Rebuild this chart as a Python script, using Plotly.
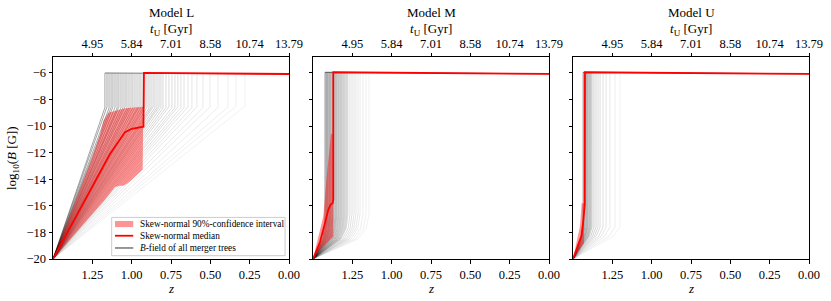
import plotly.graph_objects as go

FONT = "Liberation Serif"

# ---------------- data ----------------
z_ticks = [1.25, 1.0, 0.75, 0.5, 0.25, 0.0]
z_ticklabels = ["1.25", "1.00", "0.75", "0.50", "0.25", "0.00"]
tU_ticklabels = ["4.95", "5.84", "7.01", "8.58", "10.74", "13.79"]
B_ticks = [-20, -18, -16, -14, -12, -10, -8, -6]
model_names = ["Model L", "Model M", "Model U"]

z_seed, B_seed = 1.5, -20.0

# Model L : redshift of the jump of every merger tree and field reached before it
L_jump_z = [1.170, 1.157, 1.144, 1.131, 1.119, 1.106, 1.093, 1.081, 1.068, 1.055,
            1.042, 1.030, 1.017, 1.004, 0.992, 0.979, 0.966, 0.953, 0.941, 0.928,
            0.915, 0.903, 0.890, 0.877, 0.864, 0.852, 0.839, 0.826, 0.814, 0.801,
            0.782, 0.763, 0.744, 0.725, 0.706, 0.687, 0.667, 0.642, 0.617, 0.585,
            0.547, 0.502, 0.451, 0.388, 0.337, 0.280]
L_peak_B = [-8.60, -8.55, -8.65, -8.60, -8.55, -8.60, -8.65, -8.55, -8.60, -8.60,
            -8.55, -8.65, -8.60, -8.55, -8.60, -8.60, -8.65, -8.55, -8.60, -8.60,
            -8.55, -8.60, -8.65, -8.60, -8.55, -8.60, -8.60, -8.55, -8.60, -8.65,
            -8.60, -8.55, -8.60, -8.60, -8.55, -8.60, -8.60, -8.55, -8.60, -8.55,
            -8.60, -8.55, -8.60, -8.55, -8.50, -8.50]
L_top_B = [-6.0, -6.08]

# Model M
M_jump_z = [1.424, 1.417, 1.411, 1.405, 1.398, 1.392, 1.386, 1.379, 1.373, 1.367,
            1.360, 1.354, 1.348, 1.341, 1.335, 1.328, 1.322, 1.316, 1.309, 1.303,
            1.297, 1.290, 1.284, 1.278, 1.265, 1.252, 1.239, 1.227, 1.214, 1.201,
            1.182, 1.163, 1.144]
# Model U
U_jump_z = [1.436, 1.430, 1.424, 1.417, 1.411, 1.405, 1.398, 1.392, 1.386, 1.379,
            1.367, 1.354, 1.341, 1.328, 1.309, 1.290, 1.265, 1.233, 1.201]

# rise profile (fraction of the way to the jump, field) for M and U trees
M_rise_frac = [0.0, 0.5, 0.8, 0.95, 1.0]
M_rise_B = [-20.0, -19.1, -18.5, -17.7, -16.6]
U_rise_frac = [0.0, 0.5, 0.85, 1.0]
U_rise_B = [-20.0, -19.0, -18.3, -17.6]
MU_top_B = [-5.95, -6.07]

# skew-normal medians
L_med_z = [1.5, 1.17, 1.138, 1.057, 1.042, 1.0, 0.925, 0.922, 0.0]
L_med_B = [-20.0, -12.9, -12.1, -10.7, -10.45, -10.2, -10.04, -6.0, -6.08]
M_med_z = [1.5, 1.455, 1.424, 1.403, 1.388, 1.375, 1.371, 1.371, 0.0]
M_med_B = [-20.0, -18.7, -17.3, -16.3, -15.9, -15.8, -15.5, -5.95, -6.07]
U_med_z = [1.5, 1.468, 1.447, 1.436, 1.425, 1.424, 0.0]
U_med_B = [-20.0, -19.05, -18.3, -17.3, -15.9, -5.95, -6.07]

# skew-normal 90% confidence intervals
L_hi_z = [1.5, 1.254, 1.2, 1.18, 1.148, 1.095, 1.042, 0.926]
L_hi_B = [-20.0, -12.5, -10.6, -9.6, -9.0, -8.8, -8.65, -8.55]
L_lo_z = [1.5, 1.17, 1.106, 1.074, 1.053, 1.032, 1.004, 0.93]
L_lo_B = [-20.0, -15.55, -14.58, -14.48, -14.48, -14.36, -14.1, -13.27]
M_hi_z = [1.5, 1.435, 1.413, 1.396, 1.386, 1.371]
M_hi_B = [-20.0, -16.8, -13.8, -11.5, -10.6, -10.6]
M_lo_z = [1.5, 1.455, 1.371]
M_lo_B = [-20.0, -19.3, -18.3]
U_hi_z = [1.5, 1.455, 1.445, 1.43]
U_hi_B = [-20.0, -17.5, -15.8, -15.8]
U_lo_z = [1.5, 1.43]
U_lo_B = [-20.0, -18.8]

legend_labels = ["Skew-normal 90%-confidence interval", "Skew-normal median",
                 "<i>B</i>-field of all merger trees"]

# ---------------- figure ----------------
W, H = 831, 301
ML, MR, MT, MB = 53, 22, 57, 42
PW = W - ML - MR
PH = H - MT - MB
panel_px = [(53, 289), (313, 549), (573, 809)]
domains = [[(a - ML) / PW, (b - ML) / PW] for a, b in panel_px]

fig = go.Figure()


def alpha_for(rank, n):
    return 0.45 - 0.38 * rank / max(n - 1, 1)


def add_gray(xs, ys, ax, alpha, width=0.8):
    fig.add_trace(go.Scatter(x=xs, y=ys, mode="lines", xaxis="x" + ax, yaxis="y" + ax,
                             line=dict(color=f"rgba(0,0,0,{alpha:.3f})", width=width),
                             hoverinfo="skip", showlegend=False))


def add_flat(jumps, top, ax, alpha):
    # all plateau segments lie on one common line, drawn as one path
    add_gray([max(jumps), 0.0], [top[0], top[1]], ax, alpha, 1.0)


# Model L trees
n = len(L_jump_z)
for i, (zj, bp) in enumerate(zip(L_jump_z, L_peak_B)):
    add_gray([z_seed, zj, zj], [B_seed, bp, L_top_B[0]], "", alpha_for(i, n))
add_flat(L_jump_z, L_top_B, "", 0.45)

# Model M trees
n = len(M_jump_z)
for i, zj in enumerate(M_jump_z):
    xs = [z_seed - f * (z_seed - zj) for f in M_rise_frac] + [zj]
    ys = list(M_rise_B) + [MU_top_B[0]]
    add_gray(xs, ys, "2", alpha_for(i, n))
add_flat(M_jump_z, MU_top_B, "2", 0.6)

# Model U trees
n = len(U_jump_z)
for i, zj in enumerate(U_jump_z):
    xs = [z_seed - f * (z_seed - zj) for f in U_rise_frac] + [zj]
    ys = list(U_rise_B) + [MU_top_B[0]]
    add_gray(xs, ys, "3", alpha_for(i, n))
add_flat(U_jump_z, MU_top_B, "3", 0.6)

# confidence bands and medians
bands = [(L_hi_z, L_hi_B, L_lo_z, L_lo_B, ""), (M_hi_z, M_hi_B, M_lo_z, M_lo_B, "2"),
         (U_hi_z, U_hi_B, U_lo_z, U_lo_B, "3")]
for hz, hb, lz, lb, ax in bands:
    fig.add_trace(go.Scatter(x=hz + lz[::-1], y=hb + lb[::-1], mode="lines", fill="toself",
                             fillcolor="rgba(255,0,0,0.42)", line=dict(width=0),
                             xaxis="x" + ax, yaxis="y" + ax, hoverinfo="skip", showlegend=False))
meds = [(L_med_z, L_med_B, ""), (M_med_z, M_med_B, "2"), (U_med_z, U_med_B, "3")]
for mz, mb, ax in meds:
    fig.add_trace(go.Scatter(x=mz, y=mb, mode="lines", line=dict(color="#ff0000", width=1.8),
                             xaxis="x" + ax, yaxis="y" + ax, hoverinfo="skip", showlegend=False))

# invisible traces so the top axes are drawn
for k, ax in enumerate(["4", "5", "6"]):
    fig.add_trace(go.Scatter(x=[1.5], y=[-20], mode="markers", marker=dict(opacity=0),
                             xaxis="x" + ax, yaxis="y" + ("" if k == 0 else str(k + 1)),
                             hoverinfo="skip", showlegend=False))

tickfont = dict(family=FONT, size=12.5, color="black")
xbase = dict(range=[1.5, 0], tickvals=z_ticks, ticks="outside", ticklen=3.5, tickwidth=0.8,
             tickcolor="black", showgrid=False, zeroline=False, tickfont=tickfont,
             automargin=False)
layout = dict(width=W, height=H, margin=dict(l=ML, r=MR, t=MT, b=MB, autoexpand=False),
              template="none", plot_bgcolor="white", paper_bgcolor="white", showlegend=False)
for k in range(3):
    sfx = "" if k == 0 else str(k + 1)
    layout["xaxis" + sfx] = dict(xbase, domain=domains[k], anchor="y" + sfx,
                                 ticktext=z_ticklabels, showline=True, linecolor="black",
                                 linewidth=1, mirror=True)
    layout["xaxis" + str(k + 4)] = dict(xbase, domain=domains[k], anchor="y" + sfx,
                                        overlaying="x" + sfx, side="top",
                                        ticktext=tU_ticklabels, showline=False)
    layout["yaxis" + sfx] = dict(range=[-20, -4.8], tickvals=B_ticks, ticks="outside",
                                 ticklen=3.5, tickwidth=0.8, tickcolor="black",
                                 showgrid=False, zeroline=False, showline=True,
                                 linecolor="black", linewidth=1, mirror=True,
                                 anchor="x" + sfx, tickfont=tickfont, automargin=False,
                                 showticklabels=(k == 0))
fig.update_layout(**layout)

tfont = dict(family=FONT, size=13, color="black")
ann = []
for k in range(3):
    cx = (domains[k][0] + domains[k][1]) / 2
    ann.append(dict(x=cx, y=(H - MB - 12) / PH, xref="paper", yref="paper", text=model_names[k],
                    showarrow=False, font=tfont, xanchor="center", yanchor="middle"))
    ann.append(dict(x=cx, y=(H - MB - 29) / PH, xref="paper", yref="paper",
                    text="<i>t</i><sub>U</sub> [Gyr]", showarrow=False, font=tfont,
                    xanchor="center", yanchor="middle"))
    ann.append(dict(x=cx, y=(H - MB - 288) / PH, xref="paper", yref="paper", text="<i>z</i>",
                    showarrow=False, font=tfont, xanchor="center", yanchor="middle"))
ann.append(dict(x=(12 - ML) / PW, y=0.5, xref="paper", yref="paper",
                text="log<sub>10</sub>(<i>B</i> [G])", textangle=-90, showarrow=False,
                font=tfont, xanchor="center", yanchor="middle"))

# legend drawn in panel L (axis coordinates)
shapes = [dict(type="rect", xref="x", yref="y", x0=1.127, x1=0.025, y0=-19.75, y1=-16.87,
               line=dict(color="#cccccc", width=1), fillcolor="rgba(255,255,255,0.85)",
               layer="above")]
leg_y = [-17.37, -18.25, -19.17]
shapes.append(dict(type="rect", xref="x", yref="y", x0=1.106, x1=0.99, y0=leg_y[0] - 0.23,
                   y1=leg_y[0] + 0.23, line=dict(width=0), fillcolor="rgba(255,0,0,0.42)",
                   layer="above"))
shapes.append(dict(type="line", xref="x", yref="y", x0=1.106, x1=0.99, y0=leg_y[1], y1=leg_y[1],
                   line=dict(color="#ff0000", width=1.8), layer="above"))
shapes.append(dict(type="line", xref="x", yref="y", x0=1.106, x1=0.99, y0=leg_y[2], y1=leg_y[2],
                   line=dict(color="rgba(0,0,0,0.55)", width=1.5), layer="above"))
for yy, lab in zip(leg_y, legend_labels):
    ann.append(dict(x=0.958, y=yy, xref="x", yref="y", text=lab, showarrow=False,
                    font=dict(family=FONT, size=9.3, color="black"),
                    xanchor="left", yanchor="middle"))

fig.update_layout(annotations=ann, shapes=shapes)
fig.write_html("out.html", config={"displayModeBar": False},
               post_script="document.body.style.margin='0px';document.body.style.overflow='hidden';")
